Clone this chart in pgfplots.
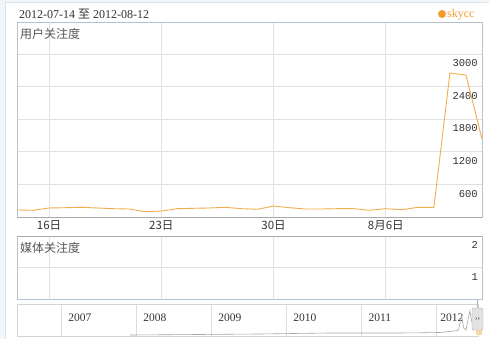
\documentclass[border=0pt]{standalone}
\usepackage{fontspec}
\usepackage{pgfplots}
\pgfplotsset{compat=1.18}
\setmainfont{Liberation Serif}
\newfontfamily\cjk{Noto Sans CJK SC}
\newfontfamily\monof{Liberation Mono}
\definecolor{lineor}{HTML}{F2AE4E}
\definecolor{bord}{HTML}{B4C2D2}
\definecolor{gridc}{HTML}{E1E1E1}
\definecolor{txt}{HTML}{333333}
\definecolor{lbl}{HTML}{555555}
\definecolor{sep}{HTML}{A9A9A9}
\definecolor{bg}{HTML}{F3F6F9}
\definecolor{panelb}{HTML}{DCE3EB}
\definecolor{legor}{HTML}{F39A2C}
\definecolor{navb}{HTML}{D4D4D4}
\definecolor{navg}{HTML}{DDDDDD}
\definecolor{tabc}{HTML}{F5D7A8}
\begin{document}
\begin{tikzpicture}[x=1pt,y=1pt]
\useasboundingbox (0,0) rectangle (490,339);
\fill[white] (0,0) rectangle (490,339);
\fill[bg] (0,336) rectangle (490,339);
\fill[bg] (0,0) rectangle (5,339);
\draw[panelb] (5.5,0) -- (5.5,336.5) -- (487,336.5);
% header
\node[anchor=west, text=txt, font=\fontsize{12}{12}\selectfont, inner sep=0] at (19,325) {2012-07-14 {\cjk 至} 2012-08-12};
\fill[legor] (442,325) circle (4);
\node[anchor=west, text=legor, font=\fontsize{12}{12}\selectfont, inner sep=0] at (447,324) {skycc};
% main axis
\begin{axis}[
  at={(17pt,122pt)}, anchor=south west, scale only axis,
  width=465pt, height=195pt,
  xmin=0, xmax=29, ymin=0, ymax=3590,
  axis line style={bord},
  xtick={2,9,16,23}, xticklabels={16日,23日,30日,8月6日},
  xticklabel style={font=\cjk\fontsize{11.5}{11.5}\selectfont, text=txt},
  ytick={600,1200,1800,2400,3000},
  scaled y ticks=false,
  /pgf/number format/assume math mode=true,
  /pgf/number format/1000 sep={},
  yticklabel pos=right,
  yticklabel style={anchor=north east, font=\monof\fontsize{10.5}{10.5}\selectfont, text=txt, inner sep=1pt, xshift=-3pt, yshift=-4.5pt},
  grid=major, major grid style={gridc, line width=0.8pt},
  tick style={draw=none},
]
\addplot[lineor, line width=0.9pt] coordinates {
(0,129)(1,123)(2,166)(3,171)(4,178)(5,166)(6,153)(7,147)(8,98)(9,110)
(10,153)(11,160)(12,166)(13,178)(14,153)(15,142)(16,202)(17,171)(18,147)(19,147)
(20,153)(21,153)(22,123)(23,153)(24,134)(25,178)(26,178)(27,2650)(28,2613)(29,1435)};
\end{axis}
% media axis
\begin{axis}[
  at={(17pt,40pt)}, anchor=south west, scale only axis,
  width=465pt, height=63pt,
  xmin=0, xmax=29, ymin=0, ymax=2,
  axis line style={bord},
  xtick={2,9,16,23}, xticklabels={,,,},
  ytick={1,2},
  /pgf/number format/assume math mode=true,
  yticklabel pos=right,
  yticklabel style={anchor=north east, font=\monof\fontsize{10.5}{10.5}\selectfont, text=txt, inner sep=1pt, xshift=-3pt, yshift=-4.5pt},
  grid=major, major grid style={gridc, line width=0.8pt},
  tick style={draw=none},
]
\end{axis}
\draw[sep, line width=0.8pt] (17,122) -- (482,122);
\draw[sep, line width=0.8pt] (17,103) -- (482,103);
\node[anchor=west, text=lbl, font=\cjk\fontsize{12}{12}\selectfont, inner sep=0] at (20,305) {用户关注度};
\node[anchor=west, text=lbl, font=\cjk\fontsize{12}{12}\selectfont, inner sep=0] at (20,91) {媒体关注度};
% navigator
\begin{axis}[
  at={(17pt,3pt)}, anchor=south west, scale only axis,
  width=461pt, height=32pt,
  xmin=2006.41, xmax=2012.56, ymin=0, ymax=32,
  axis line style={navb},
  ytick=\empty,
  xtick={2007.25,2008.25,2009.25,2010.25,2011.25,2012.21},
  xticklabels={2007,2008,2009,2010,2011,2012},
  xticklabel style={anchor=center, yshift=18pt, font=\fontsize{11.5}{11.5}\selectfont, text=txt},
  minor xtick={2007,2008,2009,2010,2011,2012},
  xminorgrids=true, xmajorgrids=false,
  minor grid style={navg, line width=0.8pt},
  tick style={draw=none},
]
\addplot[gray!70, line width=0.6pt] coordinates {
(2007.92,1)(2008.3,1.2)(2008.85,1.5)(2009.3,1.8)(2009.65,2)(2010.1,2.5)(2010.58,3)
(2011.0,3)(2011.52,3)(2011.8,3.2)(2012.05,3.5)(2012.25,5)(2012.30,6)(2012.34,20)(2012.37,8)
(2012.40,6)(2012.45,25)(2012.50,6)(2012.56,10)};
\end{axis}
% handle
\draw[gray!60] (477,40) -- (477,31);
\fill[tabc] (476,4) rectangle (482,9);
\draw[fill=gray!22, draw=gray!65, rounded corners=2pt] (472,9) rectangle (483,31);
\node[font=\bfseries\fontsize{7}{7}\selectfont, text=black!70, inner sep=0] at (477.5,20) {›‹};
\end{tikzpicture}
\end{document}
